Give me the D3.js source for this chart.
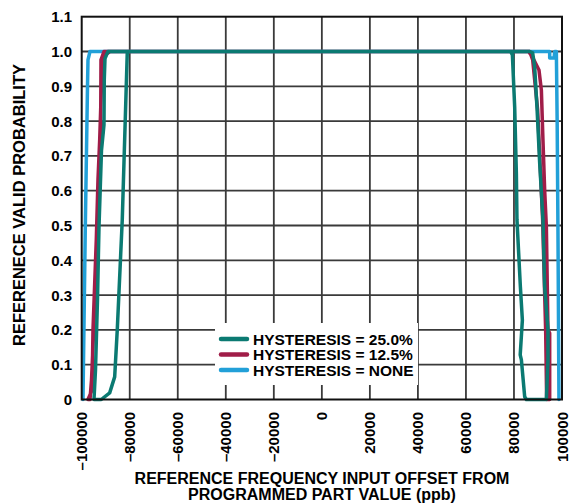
<!DOCTYPE html>
<html>
<head>
<meta charset="utf-8">
<script src="https://cdn.jsdelivr.net/npm/d3@7"></script>
<style>
  body { margin: 0; background: #fff; }
  svg text { font-family: "Liberation Sans", Arial, sans-serif; font-weight: bold; fill: #000; }
</style>
</head>
<body>
<svg id="chart" width="571" height="503"></svg>
<script>
// tick values
const xTicks = [-100000, -80000, -60000, -40000, -20000, 0, 20000, 40000, 60000, 80000, 100000];
const yTicks = [0, 0.1, 0.2, 0.3, 0.4, 0.5, 0.6, 0.7, 0.8, 0.9, 1.0, 1.1];

// series (offset in ppb, probability)
const hyst25Offset = [-94880, -91840, -88350, -86270, -85190, -83110, -81030, -80320, 78630, 79340, 80300, 81000, 81250, 82670, 83500, 82600, 83090, 84460, 85170, 93490, 94160, 94160, 92780, 92080, 90700, 89580, 88620, 87790, 86540, -89060, -90300, -90600, -90720, -91760, -92800, -93430, -94260, -94880];
const hyst25Prob = [0, 0, 0.019, 0.065, 0.20, 0.516, 0.996, 1.0, 1.0, 0.99, 0.84, 0.65, 0.516, 0.324, 0.228, 0.128, 0.114, 0.008, 0, 0, 0.114, 0.20, 0.324, 0.516, 0.68, 0.84, 0.956, 0.996, 1.0, 1.0, 0.98, 0.918, 0.789, 0.716, 0.496, 0.286, 0.084, 0];

const hyst125Offset = [-97380, -95710, -95300, -93930, -93220, -92510, -91840, -91350, -90300, -88230, 86120, 87910, 90410, 91410, 92070, 92780, 93490, 94160, 94870, 94870, 93610, 93190, 91940, 89860, 87790, 86540, -90720, -91970, -92090, -91140, -92510, -93430, -94470, -95920, -96550, -97380];
const hyst125Prob = [0, 0.027, 0.20, 0.458, 0.631, 0.746, 0.889, 0.958, 0.99, 1.0, 1.0, 0.981, 0.947, 0.889, 0.746, 0.602, 0.496, 0.20, 0.191, 0, 0, 0.20, 0.516, 0.832, 0.976, 1.0, 1.0, 0.976, 0.803, 0.774, 0.717, 0.516, 0.286, 0.056, 0, 0];

const hystNoneOffset = [-99460, -98500, -97590, -97380, -96550, 94870, 94870, 96740, 96950, 97650, 97980, 98310, 98730];
const hystNoneProb = [0, 0.496, 0.898, 0.976, 1.0, 1.0, 0.981, 0.981, 1.0, 1.0, 0.803, 0.496, 0];

const seriesNames = ["HYSTERESIS = 25.0%", "HYSTERESIS = 12.5%", "HYSTERESIS = NONE"];
const seriesColors = ["#0b7a72", "#a01d48", "#22a0d8"];

const svg = d3.select("#chart");
const x = d3.scaleLinear().domain([-100000, 100000]).range([81.7, 562]);
const y = d3.scaleLinear().domain([0, 1.1]).range([399.5, 16.7]);

// grid
const grid = svg.append("g");
grid.selectAll(".vg").data(xTicks.slice(1, -1)).enter().append("line")
  .attr("x1", d => x(d)).attr("x2", d => x(d))
  .attr("y1", y(1.1)).attr("y2", y(0))
  .attr("stroke", "#3a3a3a").attr("stroke-width", 1.8);
grid.selectAll(".hg").data(yTicks.slice(1, -1)).enter().append("line")
  .attr("x1", x(-100000)).attr("x2", x(100000))
  .attr("y1", d => y(d)).attr("y2", d => y(d))
  .attr("stroke", "#3a3a3a").attr("stroke-width", 1.8);

// legend background (covers grid)
const legend = svg.append("g").attr("transform", "translate(215,323)");
legend.append("rect").attr("width", 203).attr("height", 62).attr("fill", "#fff");

// series
const line = d3.line().x(d => x(d[0])).y(d => y(d[1]));
const series = [
  d3.zip(hystNoneOffset, hystNoneProb),
  d3.zip(hyst125Offset, hyst125Prob),
  d3.zip(hyst25Offset, hyst25Prob)
];
const colorsDraw = [seriesColors[2], seriesColors[1], seriesColors[0]];
svg.append("g").selectAll("path").data(series).enter().append("path")
  .attr("d", line)
  .attr("fill", "none")
  .attr("stroke", (d, i) => colorsDraw[i])
  .attr("stroke-width", 3.5)
  .attr("stroke-linejoin", "round")
  .attr("stroke-linecap", "round");

// frame
svg.append("rect")
  .attr("x", x(-100000)).attr("y", y(1.1))
  .attr("width", x(100000) - x(-100000)).attr("height", y(0) - y(1.1))
  .attr("fill", "none").attr("stroke", "#111").attr("stroke-width", 2);

// legend entries
seriesNames.forEach((name, i) => {
  const yy = 16 + i * 15.5;
  legend.append("line").attr("x1", 6).attr("x2", 32).attr("y1", yy).attr("y2", yy)
    .attr("stroke", seriesColors[i]).attr("stroke-width", 4.5).attr("stroke-linecap", "round");
  legend.append("text").attr("x", 38).attr("y", yy + 5.5)
    .style("font-size", "15.5px").text(name);
});

// y tick labels
svg.append("g").selectAll("text").data(yTicks).enter().append("text")
  .attr("x", 72).attr("y", d => y(d) + 5.5)
  .attr("text-anchor", "end")
  .style("font-size", "15px")
  .text(d => d === 0 ? "0" : d3.format(".1f")(d));

// x tick labels (rotated)
svg.append("g").selectAll("text").data(xTicks).enter().append("text")
  .attr("transform", d => `translate(${x(d) + 5.5},412) rotate(-90)`)
  .attr("text-anchor", "end")
  .style("font-size", "15px")
  .text(d => d < 0 ? "\u2013" + Math.abs(d) : String(d));

// axis titles
svg.append("text").attr("x", 322).attr("y", 484).attr("text-anchor", "middle")
  .style("font-size", "16px").text("REFERENCE FREQUENCY INPUT OFFSET FROM");
svg.append("text").attr("x", 322).attr("y", 500).attr("text-anchor", "middle")
  .style("font-size", "16px").text("PROGRAMMED PART VALUE (ppb)");
svg.append("text").attr("transform", "translate(25,205) rotate(-90)")
  .attr("text-anchor", "middle")
  .style("font-size", "16.5px").text("REFERENECE VALID PROBABILITY");
</script>
</body>
</html>
